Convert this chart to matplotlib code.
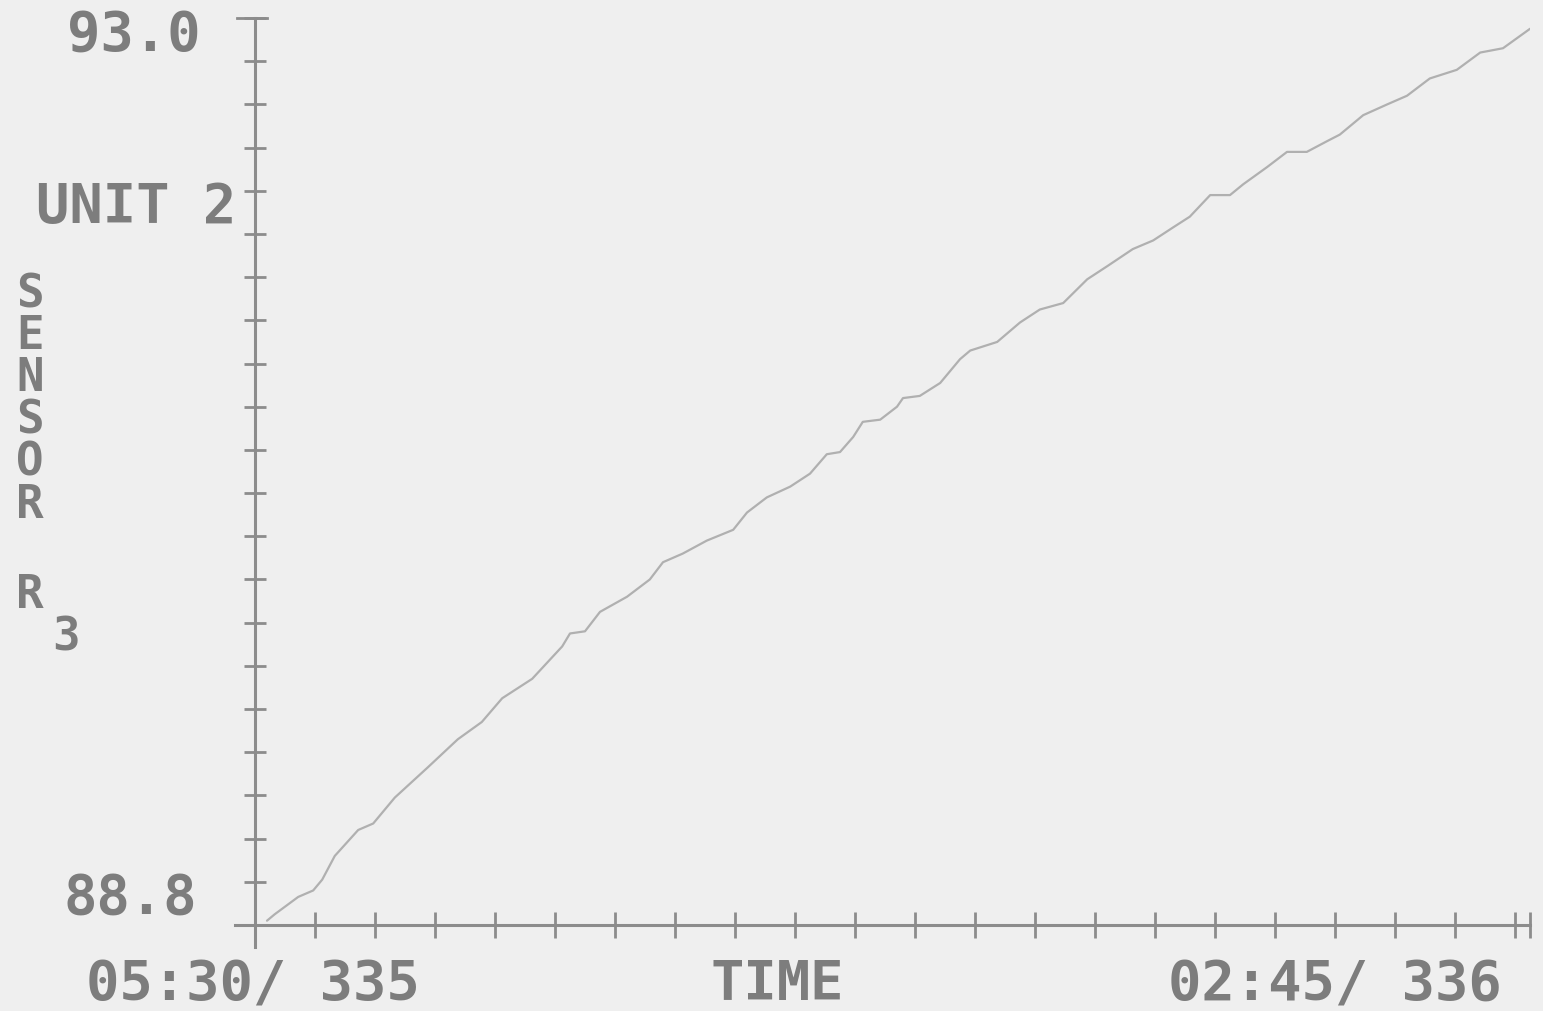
import matplotlib.pyplot as plt

# sensor trace, hours since 05:30 on day 335
hours = [0.2, 0.33, 0.72, 0.97, 1.12, 1.33, 1.72, 1.97, 2.33, 2.88, 3.38, 3.78,
         4.12, 4.62, 5.12, 5.25, 5.5, 5.75, 6.2, 6.58, 6.8, 7.13, 7.53, 7.97,
         8.2, 8.53, 8.92, 9.25, 9.53, 9.75, 9.97, 10.13, 10.42, 10.7, 10.8,
         11.08, 11.42, 11.75, 11.92, 12.37, 12.75, 13.08, 13.47, 13.87, 14.2,
         14.63, 14.97, 15.3, 15.58, 15.92, 16.25, 16.47, 16.87, 17.2, 17.53,
         17.87, 18.08, 18.47, 18.87, 19.2, 19.58, 20.03, 20.42, 20.8, 21.25]
sensor_r3 = [88.82, 88.85, 88.93, 88.96, 89.01, 89.12, 89.24, 89.27, 89.39,
             89.53, 89.66, 89.74, 89.85, 89.94, 90.09, 90.15, 90.16, 90.25,
             90.32, 90.40, 90.48, 90.52, 90.58, 90.63, 90.71, 90.78, 90.83,
             90.89, 90.98, 90.99, 91.06, 91.13, 91.14, 91.20, 91.24, 91.25,
             91.31, 91.42, 91.46, 91.50, 91.59, 91.65, 91.68, 91.79, 91.85,
             91.93, 91.97, 92.03, 92.08, 92.18, 92.18, 92.23, 92.31, 92.38,
             92.38, 92.43, 92.46, 92.55, 92.60, 92.64, 92.72, 92.76, 92.84,
             92.86, 92.95]

y_min, y_max = 88.8, 93.0
t_end = 21.25
start_label = "05:30/ 335"
end_label = "02:45/ 336"

bg = "#efefef"
ink = "#7d7d7d"
axis_col = "#8c8c8c"
mono = "DejaVu Sans Mono"

fig = plt.figure(figsize=(15.43, 10.11), dpi=100, facecolor=bg)
ax = fig.add_axes([255 / 1543, 86 / 1011, 1275 / 1543, 907 / 1011])
ax.set_facecolor(bg)

ax.plot(hours, sensor_r3, color="#b0b0b0", lw=1.6, solid_capstyle="round")

ax.set_xlim(0, t_end)
ax.set_ylim(y_min, y_max)
for side in ("top", "right"):
    ax.spines[side].set_visible(False)
for side in ("left", "bottom"):
    ax.spines[side].set_color(axis_col)
    ax.spines[side].set_linewidth(2.2)
ax.spines["bottom"].set_bounds(-0.33, t_end)
ax.spines["left"].set_bounds(y_min - 0.1, y_max)

ax.set_xticks([h for h in range(22)] + [t_end])
ax.set_yticks([round(y_min + 0.2 * i, 1) for i in range(22)])
ax.tick_params(axis="x", direction="inout", length=19, width=2, color=axis_col,
               labelbottom=False)
ax.tick_params(axis="y", direction="inout", length=16, width=2, color=axis_col,
               labelleft=False)
# wider cap on top of the value axis
ax.plot([-0.3, 0.2], [y_max, y_max], color=axis_col, lw=2, clip_on=False)

big = dict(family=mono, weight="bold", color=ink, fontsize=40)
fig.text(200 / 1543, 1 - 35 / 1011, "93.0", ha="right", va="center", **big)
fig.text(197 / 1543, 1 - 898 / 1011, "88.8", ha="right", va="center", **big)
fig.text(236 / 1543, 1 - 207 / 1011, "UNIT 2", ha="right", va="center", **big)
fig.text(86 / 1543, 1 - 985 / 1011, start_label, ha="left", va="center", **big)
fig.text(777 / 1543, 1 - 985 / 1011, "TIME", ha="center", va="center", **big)
fig.text(1502 / 1543, 1 - 985 / 1011, end_label, ha="right", va="center", **big)

small = dict(family=mono, weight="bold", color=ink, fontsize=33)
fig.text(30 / 1543, 1 - 272 / 1011, "S\nE\nN\nS\nO\nR", ha="center", va="top",
         linespacing=0.92, **small)
fig.text(30 / 1543, 1 - 596 / 1011, "R", ha="center", va="center", **small)
fig.text(66 / 1543, 1 - 638 / 1011, "3", ha="center", va="center", **small)

fig.savefig("out.png", dpi=100, facecolor=bg)
